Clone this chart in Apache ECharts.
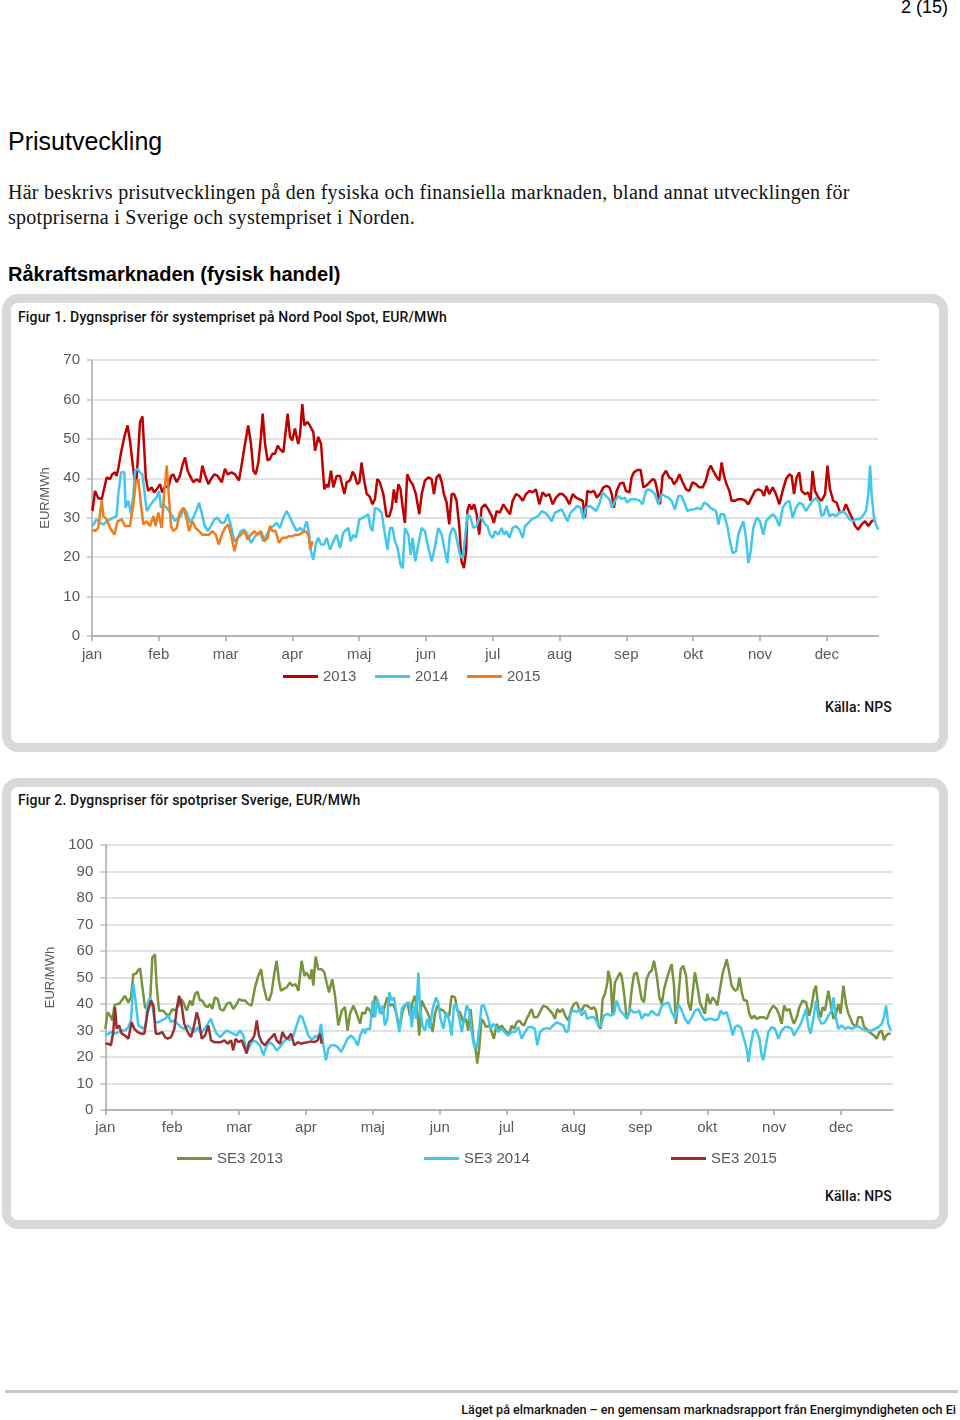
<!DOCTYPE html>
<html><head><meta charset="utf-8">
<script src="https://cdn.jsdelivr.net/npm/echarts@6.0.0/dist/echarts.min.js"></script>
<style>
html,body{margin:0;padding:0;background:#fff;}
#page{position:relative;width:960px;height:1420px;overflow:hidden;font-family:'Liberation Sans',Arial,sans-serif;}
.t{position:absolute;white-space:nowrap;}
.box{position:absolute;box-sizing:border-box;border:9px solid #d9d9d9;border-radius:16px;background:#fff;}
.fig{font-family:Roboto,'Liberation Sans',sans-serif;font-weight:500;font-size:14px;letter-spacing:0.15px;line-height:16px;color:#111;}
#c{position:absolute;left:0;top:0;width:960px;height:1420px;}
</style>
</head><body>
<div id="page">
  <div class="t" style="right:12px;top:-3px;font-size:18px;line-height:20px;color:#000;">2 (15)</div>
  <div class="t" style="left:8px;top:126px;font-size:25px;line-height:30px;color:#000;">Prisutveckling</div>
  <div class="t" style="left:8px;top:180px;font-family:'Liberation Serif','Times New Roman',serif;font-size:20px;letter-spacing:0.27px;line-height:25px;color:#111;">Här beskrivs prisutvecklingen på den fysiska och finansiella marknaden, bland annat utvecklingen för<br>spotpriserna i Sverige och systempriset i Norden.</div>
  <div class="t" style="left:8px;top:262px;font-size:20px;line-height:24px;font-weight:bold;color:#000;">Råkraftsmarknaden (fysisk handel)</div>
  <div class="box" style="left:2px;top:294px;width:946px;height:458px;"></div>
  <div class="t fig" style="left:18px;top:309px;">Figur 1. Dygnspriser för systempriset på Nord Pool Spot, EUR/MWh</div>
  <div class="t fig" style="right:68px;top:699px;">Källa: NPS</div>
  <div class="box" style="left:2px;top:778px;width:946px;height:451px;"></div>
  <div class="t fig" style="left:18px;top:792px;">Figur 2. Dygnspriser för spotpriser Sverige, EUR/MWh</div>
  <div class="t fig" style="right:68px;top:1188px;">Källa: NPS</div>
  <div style="position:absolute;left:5px;top:1390px;width:953px;height:3px;background:#c8c8c8;"></div>
  <div class="t fig" style="right:4px;top:1402px;font-size:12.6px;letter-spacing:0;">Läget på elmarknaden – en gemensam marknadsrapport från Energimyndigheten och Ei</div>
  <div id="c"></div>
</div>
<script>
// ---- axis labels / ticks ----
const months = ['jan','feb','mar','apr','maj','jun','jul','aug','sep','okt','nov','dec'];
const monthTicks = [0,31,62,93,124,155,186,217,248,279,310,341];

// ---- Figur 1: systempris (day of year, EUR/MWh) ----
const sys2013 = [[0.2,31.7],[1.4,36.8],[2.9,35],[4.5,34.7],[6.8,40.2],[8.4,39.8],[9.4,41],[10.7,41.5],[11.4,40.6],[12.2,42.4],[13.5,46.6],[15,50.5],[16.5,53.4],[17.6,49.6],[18.7,44.5],[19.9,39],[20.7,40],[22.3,54.3],[23.4,55.7],[24.3,56],[25,40],[26.1,36.8],[27.7,37.7],[28.9,36.4],[30,37.2],[31.6,38.5],[32.6,36.4],[33.9,38],[35.4,37.7],[36.7,40.6],[37.7,41],[39.3,39],[40.8,40.6],[41.9,43.2],[43.2,45.3],[44.4,41.9],[45.5,40.6],[47,39],[48.6,39.8],[50.1,39],[51.2,43.2],[52.4,41],[54,38.5],[55.2,39.8],[56.8,41],[58.3,40.6],[60.2,39],[61.7,42.4],[62.9,41],[64.8,41.5],[66.4,41],[68.2,39.4],[69.5,43.6],[71,48.7],[72.5,53.4],[73.8,48.7],[74.9,41.9],[76,41],[77.2,44],[78.4,50.5],[79.2,56.4],[80.3,48.7],[81.5,44.5],[82.6,44.9],[83.7,46.2],[84.9,46.2],[86.2,48.3],[87.2,47.4],[88.8,46.6],[89.5,46.2],[90.8,56.4],[91.9,50.5],[92.9,49.6],[94.2,52.6],[95.7,48.7],[96.5,50.9],[97.6,58.8],[98.5,53.4],[100,54.3],[101.1,53.4],[102.7,51.7],[103.5,47],[105,50.5],[106.3,48.7],[107.8,37.2],[108.9,38.5],[109.7,37.7],[110.9,41.9],[112,37.7],[113.5,40.6],[115.1,40.6],[117.1,36],[118.2,39],[119.7,39.4],[121,41.7],[122,40.6],[123.1,38.5],[124.1,39],[125.1,44],[126.2,39.8],[127.5,36],[128.7,35.5],[130.2,33.4],[131.3,34.7],[132.4,39.8],[133.6,39],[135.2,36],[136.7,30.4],[138,30.4],[139.1,32.5],[140.1,37.2],[141.1,33.8],[142.2,38.5],[143.2,37.2],[144.2,32.5],[145.2,28.7],[146.3,41],[147.6,39.4],[148.8,38.5],[150.3,36],[151.9,30.9],[153,36],[154.5,39.4],[156.1,40.2],[157.6,39.8],[158.7,36],[159.9,40.2],[161.2,41],[162.3,39],[163.3,36],[164.6,33.8],[165.8,28.3],[166.9,36],[168,36],[169.2,34.3],[170.5,27.4],[171.5,18.9],[172.6,17.2],[173.6,21.5],[174.2,31.7],[175.1,33.4],[176.2,32.1],[177.3,33.4],[178.5,30.9],[179.7,25.7],[180.8,32.5],[182.4,33.4],[183.9,32.1],[185.5,30.4],[186.5,28.7],[187.8,31.7],[189.3,31.3],[190.9,33.4],[192.4,32.1],[194,30.9],[195.2,34.3],[196.8,36],[198.3,35.5],[199.9,34.3],[201.4,36],[203,36.8],[204.5,36.4],[206,37.2],[207.6,33.4],[209.1,36.4],[210.7,35.5],[212.2,36],[213.8,33.4],[215.3,35.1],[216.9,36],[218.4,36],[220,35.1],[221.5,33.4],[223.1,36],[224.6,35.1],[226.1,34.7],[227.7,34.3],[228.8,30],[229.9,36.8],[231.4,36.4],[233,36.8],[234.2,35.1],[235.7,36],[237.3,37.7],[238.8,38.1],[240.1,37.7],[241.2,36],[242.2,32.5],[243.5,36.8],[245,38.7],[246.6,38.9],[247.8,36.8],[249.4,36.4],[250.4,40.2],[251.5,41.5],[253.1,42.1],[254.6,42.1],[255.9,37.7],[257.1,38.1],[258.6,38.9],[260.2,39.8],[261.3,39.4],[262,37.7],[263.6,33.4],[264.8,40.6],[266.4,41.9],[267.9,40.2],[269,39.8],[270.1,38.5],[271.3,39.4],[272.6,41],[274.1,39],[275.7,37.2],[277.2,36.8],[278.7,39],[280.3,38.5],[281.8,37.7],[283.4,37.7],[284.9,39.4],[286,41.9],[287.1,43.2],[288.3,41.9],[289.6,40.6],[291.1,39.4],[292.2,44],[293.3,40.6],[294.5,38.5],[295.8,36.8],[296.8,34.3],[298.4,34.3],[299.9,34.7],[301.5,34.7],[303,34.4],[304.6,33.4],[306.1,35.1],[307.7,36.8],[309.2,37.2],[310.8,36.8],[311.9,35.5],[313.1,38.1],[314.3,36],[315.9,37.7],[317.4,36],[319,33.4],[320.5,36.8],[322.1,39.8],[323.6,41],[324.7,40.6],[325.8,36],[327,40.2],[328.2,41.5],[329.3,36.8],[330.9,36],[332.4,36.4],[333.5,34.3],[334.4,41.9],[335.5,36.8],[337.1,35.1],[338.6,34.3],[340.2,36],[341.3,43.2],[342.5,37.2],[344,34.3],[345.6,33.8],[347.1,31.3],[348.7,31.7],[349.9,33.4],[351.5,31.3],[353,29.6],[354.1,27.9],[355.6,27],[357.2,28.3],[358.7,29.1],[360.3,27.9],[361.8,29.1],[362.6,29.3]];

const sys2014 = [[0.2,27.9],[2.2,29.6],[3.7,28.7],[5.3,28.3],[6.8,29.1],[8.4,29.6],[9.9,30],[11.4,30.4],[12.2,36],[13.5,41.5],[15,41.5],[15.6,32.5],[16.9,34.3],[18.1,30.9],[19.2,36],[20,41.9],[21.2,42.4],[22.3,41.5],[23.4,41],[24.3,41.5],[25.4,31.7],[26.9,33],[28.5,34.3],[30,35.1],[31.1,36.8],[32,32.5],[33.1,33.4],[34.7,32.5],[36.2,31.3],[37.3,30.4],[38.5,29.1],[39.8,30],[41.3,30.4],[42.4,32.5],[44,31.3],[45.5,28.7],[47,30],[48.6,32.1],[49.7,33.8],[50.9,31.3],[52.1,28.3],[53.7,26.6],[55.2,27.9],[56.8,29.6],[58.3,30],[59.9,28.7],[61.4,28.7],[63,30.9],[64.5,27.9],[66.1,24],[67.6,24.9],[69.1,26.6],[70.7,27],[72.2,25.7],[73.8,23.6],[75.3,24.9],[76.9,26.2],[78.4,25.7],[79.5,24],[81.1,25.7],[82.6,27.4],[84.2,27.9],[85.7,28.7],[87.2,27.4],[88.8,30],[90.3,31.7],[91.9,30],[93.4,28.3],[95,26.6],[96.5,27.4],[98.1,26.6],[99.6,29.1],[100.7,26.2],[101.6,21.5],[102.7,19.3],[103.8,23.2],[105,24.9],[106.3,23.2],[107.8,23.2],[108.9,24.9],[110.5,21.9],[112,24],[113.5,25.7],[115.1,22.3],[116.6,26.2],[119,27.4],[120,24],[121.3,25.7],[122.5,24.9],[124.1,29.6],[125.6,30],[127.1,30.4],[128.2,30.9],[129.3,27.4],[130.2,26.6],[131.3,32.5],[132.9,32.1],[134.4,31.3],[135.5,27.4],[137.1,21.9],[138.3,27.4],[139.5,27.4],[140.6,24],[141.8,22.3],[143.2,18],[144.2,17.2],[145.2,27.4],[146.8,25.7],[147.9,20.6],[148.8,24.9],[150,18.9],[151.4,23.2],[153,27.4],[154.5,26.6],[156.1,22.3],[157.6,18.9],[159.2,22.7],[160.7,27.4],[162.3,25.7],[163.8,21.5],[164.9,18.5],[166.1,25.7],[167.4,27.4],[168.5,26.6],[169.5,24],[170.8,20.6],[172,19.7],[173.1,24.9],[174.2,30.9],[175.4,30.4],[177,27.4],[178.5,27.9],[179.7,30],[180.8,30],[182.4,28.3],[183.5,27.9],[184.7,25.7],[186,24.9],[187,26.6],[188.6,25.7],[190.1,27.4],[191.2,25.7],[192.4,26.6],[193.7,24.9],[195.2,27.4],[196.8,27.9],[198.3,27],[199.9,24.9],[201,27.9],[202.5,28.7],[204,29.6],[205.6,30],[207.1,30.4],[208.7,31.7],[210.2,31.3],[211.8,30.4],[213.3,29.1],[214.9,31.3],[216.4,31.7],[218,32.1],[219.5,30.4],[220.6,29.1],[222.1,31.3],[223.7,32.1],[225.2,33],[226.8,32.5],[228,29.6],[229.2,32.5],[230.8,33],[232.3,32.5],[233.9,31.7],[235.4,33.4],[237,36.4],[238.5,35.5],[240.1,34.7],[241.3,32.5],[242.7,34.3],[244.3,35.5],[245.8,34.7],[247.3,35.1],[248.4,33.8],[250,34.7],[252,34.7],[254,34.4],[255.5,33.4],[257.1,36.8],[258.2,37.2],[259.7,36.8],[261.3,36],[262.8,33.4],[264.4,36],[265.9,35.5],[267.5,35.1],[269,34.3],[270.5,32.1],[272.1,35.5],[273.6,35.5],[275.2,33.4],[276.3,31.7],[277.8,32.1],[279.4,32.1],[280.9,32.5],[282.5,32.1],[284,33.8],[285.6,33.4],[287.1,32.5],[288.3,32.1],[289.6,31.7],[290.7,28.3],[291.7,30.9],[293.3,30.9],[294.8,27.9],[296.1,24],[297.3,21],[298.9,21.5],[299.9,25.7],[301,27.4],[302.3,29.1],[303.5,24.9],[304.6,18.5],[305.7,21.5],[306.9,27.4],[308.5,30],[310,29.1],[311.5,25.7],[312.8,29.1],[314.3,30],[315.9,30.9],[317.4,30],[319,27.9],[320.5,32.5],[322.1,33.8],[323.6,34.3],[325.2,30],[326.7,32.5],[328.2,33.8],[329.8,33.4],[331.3,31.7],[332.9,33],[334.4,34.3],[336,35.1],[337.5,33.8],[338.6,30.4],[339.7,30.9],[340.9,33],[342.2,30.4],[343.7,30.9],[345.3,30.4],[346.8,31.3],[348.4,31.7],[349.9,30.9],[351.5,29.6],[353,29.1],[354.5,29.6],[356.1,29.6],[357.6,30.4],[359.2,31.7],[360.3,36],[361.1,43.2],[361.8,36],[362.9,30],[363.8,28.3],[364.9,27]];

const sys2015 = [[0.2,27],[1.4,26.6],[2.9,27.4],[4.5,34.3],[5.3,30.4],[6.8,29.6],[8.4,27.4],[10.4,25.7],[11.9,29.1],[13.8,29.6],[15.3,27.9],[17.6,27.9],[19.2,33.4],[20.3,39],[21.5,39.8],[22.7,33.4],[23.8,28.3],[25.4,29.1],[26.9,27.9],[28.5,30.4],[29.5,27.9],[30.8,31.3],[32.3,27.4],[33.6,36.8],[34.7,43.2],[35.7,35.1],[36.7,27.9],[37.7,26.6],[39.3,27.4],[40.8,31.3],[42.4,32.5],[44,29.6],[45,26.6],[46.6,29.1],[48.1,27.4],[49.7,26.6],[51.2,25.7],[52.8,25.7],[54.3,25.7],[55.8,26.6],[57.4,25.7],[58.9,23.2],[60.2,25.7],[61.7,27.4],[63.3,28.3],[64.8,24.9],[66.1,21.5],[67.6,24.9],[69.1,25.7],[70.7,26.6],[72.2,24.5],[73.8,25.7],[75.3,26.6],[76.9,25.7],[78.4,26.6],[80,24],[81.5,24.9],[82.6,27.9],[83.7,26.6],[85.2,26.6],[86.8,23.6],[88.3,24.9],[89.9,24.9],[91.4,25.3],[93,25.3],[94.5,25.7],[96.1,25.7],[97.6,26.2],[99.2,26.6],[100.4,25.7],[101.3,21.9],[102.3,24]];

// ---- Figur 2: SE3 spotpris (day of year, EUR/MWh) ----
const se3_2013 = [[0,30.6],[1.1,36.9],[2.2,35.6],[3.3,33.8],[4.2,39.4],[5.3,40],[6.4,40],[7.6,41.3],[9.1,43.1],[10.7,40.6],[11.9,42.5],[13,51.3],[14.1,51.3],[15,52.5],[16.1,53.4],[17.2,46.3],[18.4,38.8],[19.6,38.1],[20.7,40],[21.8,57.5],[23,58.8],[23.8,46.9],[24.9,37.5],[25.8,36.9],[26.9,37.5],[28,36.3],[29.5,35.6],[31.1,38.1],[32.3,37.5],[33.9,39.4],[35.1,41.9],[36.2,40.6],[37.7,37.5],[39.3,41.3],[40.3,39.4],[41.6,43.8],[42.8,44.6],[43.9,41.3],[45,41.3],[46.2,39.4],[47.4,38.8],[48.5,40],[49.6,38.1],[50.8,42.5],[52.1,41.9],[53.2,38.1],[54.7,37.5],[56.3,40],[57.8,40.6],[59.3,38.1],[60.9,40],[62,41.9],[63.2,41.3],[64.8,41.3],[66.3,40],[67.8,39.4],[69.4,46.3],[70.9,50.6],[72.2,53.1],[73.3,46.9],[74.8,41.9],[75.9,41.3],[77.1,44.4],[78.4,51.9],[79.4,56.3],[80.5,48.8],[81.4,45],[82.5,45.6],[84.1,46.3],[85.6,48.1],[86.7,46.9],[88.2,47.5],[89.5,45],[91,56.3],[92.3,50.6],[93.3,51.9],[94.9,49.4],[95.7,53.1],[96.4,46.9],[97.5,57.9],[98.7,53.1],[100.3,53.1],[101.5,51.9],[102.6,48.1],[103.7,44.4],[105.2,49.4],[106.5,43.1],[108,31.9],[109.6,37.5],[111.1,38.8],[112.3,30],[113.4,36.3],[115,39.4],[116.5,36.3],[118.1,32.5],[119.1,36.9],[120.4,36.3],[121.4,38.8],[122.7,37.5],[123.9,35],[125,43.1],[126.1,41.3],[127.3,38.1],[128.5,36.3],[129.6,39.4],[130.7,42.5],[131.9,39.4],[133.2,40],[134.3,38.1],[135.8,33.1],[136.6,31.3],[137.8,37.5],[138.9,39.4],[140,40.6],[141.2,35.6],[142.4,40.6],[143.5,43.1],[144.6,37.5],[145.5,28.1],[146.6,41.3],[147.7,39.4],[148.9,37.5],[150.5,34.4],[151.7,29.4],[152.8,36.3],[153.9,39.4],[155.1,38.1],[156.7,37.5],[158.2,35.6],[159.4,35.6],[160.5,43.1],[162.1,42.5],[163.1,37.5],[164.4,36.9],[165.9,33.1],[167.2,34.4],[168.2,30],[169.3,38.1],[170.6,26.9],[171.8,21.9],[172.4,17.5],[173.3,23.1],[174.4,34.4],[175.5,33.1],[176.4,31.3],[178,31.9],[179.1,29.4],[180.1,26.9],[181.4,32.5],[182.6,30.6],[183.7,31.9],[184.8,30.6],[186,29.4],[187.3,28.8],[188.3,31.9],[189.4,30.6],[190.7,33.1],[191.9,33.8],[193,32.5],[194.1,31.9],[195.3,34.4],[196.5,36.3],[197.6,38.1],[198.7,35],[200.2,35],[201.8,37.5],[203,39.4],[204.6,38.8],[206.1,37.5],[207.3,36.3],[208.4,34.4],[209.5,38.1],[210.7,36.9],[212,38.1],[213.1,35.6],[214.6,33.8],[216.1,38.1],[217.2,40],[218.5,40.6],[219.7,38.1],[220.8,37.5],[221.9,39.4],[223.1,39.4],[224.3,38.8],[225.4,38.1],[226.5,38.8],[227.4,37.5],[228.5,31.9],[229.6,30.6],[230.5,41.9],[231.6,43.8],[232.7,48.1],[233.1,52.5],[234.2,48.8],[235.1,36.3],[236.2,48.1],[237.8,50.6],[238.5,51.9],[239.3,50.6],[240.4,44.4],[241.7,34.4],[242.9,36.9],[244,45.6],[245.1,51.3],[246.3,51.9],[247.5,46.9],[248.6,41.9],[249.7,40.6],[250.9,49.4],[252.2,51.9],[253.2,52.5],[254.3,56.3],[255.6,50.6],[256.8,42.5],[257.9,40],[259,45.6],[260.2,49.4],[261.4,52.5],[262.5,55],[263.6,46.9],[264.5,32.5],[265.6,42.5],[266.7,53.1],[267.9,54.4],[269.2,50.6],[270.2,40.6],[271.3,37.5],[272.6,46.9],[273.3,51.9],[274.4,46.9],[275.6,40.6],[276.9,38.1],[277.9,36.3],[279,43.8],[280.3,40],[281.5,42.5],[282.6,41.3],[283.7,39.4],[284.9,45.6],[286.2,51.9],[287.2,54.4],[288,56.9],[289.2,51.9],[290.3,46.9],[291.9,45],[293,45.6],[293.9,50],[295,44.4],[296,41.3],[297.3,41.3],[298.5,36.3],[299.6,34.4],[300.7,35.6],[301.9,34.4],[303.5,35],[305,35],[306.6,34.4],[308.1,37.5],[309.6,39.4],[311.2,38.1],[312.4,35.6],[313.5,32.5],[314.6,39.4],[315.8,37.5],[317.1,38.1],[318.1,35],[319.2,32.5],[320.5,35],[321.7,38.8],[323.2,41.3],[324.8,40.6],[326.3,35.6],[327.4,39.4],[328.5,45],[329.4,46.9],[330.5,38.1],[331.6,35],[332.5,38.8],[333.6,37.5],[335.1,45],[336.2,40],[337.5,34.4],[338.7,36.3],[339.8,40],[340.8,36.3],[342.1,46.9],[343.3,40],[344.4,36.3],[345.5,34.4],[346.4,32.5],[348,31.3],[349,35],[350.6,35],[351.7,31.3],[352.9,30.6],[354.1,29.4],[355.2,28.8],[356.3,28.1],[357.5,26.9],[358.8,29.4],[359.9,30],[360.9,26.3],[361.9,28.1],[362.9,28.8],[364,28.8]];

const se3_2014 = [[0,28.1],[1.4,28.8],[3,29.4],[4.5,28.8],[6.1,29.4],[7.6,30],[9.1,30],[10.7,31.3],[11.9,33.8],[13,47.5],[14.1,40.6],[15.3,31.9],[16.6,31.3],[17.6,30.6],[18.7,31.9],[19.6,40],[20.7,42.5],[21.8,39.4],[23,33.1],[24.6,33.1],[26.1,33.8],[27.7,34.4],[29.2,35.6],[30.5,33.1],[32,33.8],[33.5,32.5],[35.1,31.3],[36.6,30.6],[38.2,31.9],[39.7,30.6],[41.3,29.4],[42.8,31.3],[44.4,28.8],[45.9,30.6],[47.5,32.5],[49,34.4],[50.2,31.3],[51.6,28.8],[53.2,27.5],[54.7,28.8],[56.3,30],[57.8,29.4],[59.3,28.8],[60.9,28.1],[62.4,30],[64,28.1],[65.5,21.9],[67.1,24.4],[68.6,26.3],[70.2,25.6],[71.7,24.4],[73.3,20.6],[74.8,24.4],[76.3,25.6],[77.9,24.4],[79.4,22.5],[81,23.8],[82.5,25.6],[84.1,26.9],[85.6,26.3],[87.2,28.1],[88.7,31.9],[90.2,35.6],[91.3,35],[92.6,31.9],[94.1,28.1],[95.3,26.9],[96.4,26.9],[97.5,28.1],[98.7,26.9],[100,32.5],[101.1,24.4],[102.3,18.8],[103.4,23.1],[104.6,24.4],[106.2,24.4],[107.7,23.8],[109.3,21.9],[110.8,24.4],[112.3,26.9],[113.9,28.1],[115.4,26.9],[117,24.4],[118.1,28.1],[119.6,30.6],[120.4,28.8],[121.1,30.6],[122.7,30.6],[123.9,41.3],[125,35],[126.1,41.9],[127.3,36.3],[128.5,39.4],[129.6,31.9],[130.7,34.4],[131.6,44.4],[132.7,41.3],[133.8,42.5],[135,35.6],[136.3,29.4],[137.4,38.1],[138.4,39.4],[139.7,40],[140.9,40.6],[142,31.3],[143.1,39.4],[144,34.4],[145.1,51.9],[145.8,39.4],[147.1,31.3],[148.2,30],[149.2,34.4],[150.5,30.6],[151.7,38.1],[153.3,42.5],[154.3,40.6],[155.4,34.4],[156.7,30.6],[157.9,36.9],[159.4,33.8],[160.5,28.1],[161.6,39.4],[162.8,39.4],[164.1,34.4],[165.2,29.4],[166.2,33.8],[167.5,39.4],[168.7,37.5],[169.8,29.4],[170.9,24.4],[172.1,23.1],[173.3,30.6],[174.4,39.4],[175.5,39.4],[176.4,39.4],[177.5,34.4],[178.6,30.6],[179.8,32.5],[181.1,31.3],[182.2,29.4],[183.2,30.6],[184.5,30],[185.7,28.8],[186.8,28.1],[188.3,29.4],[189.9,29.4],[191.4,31.3],[193,26.9],[194.5,29.4],[196.1,31.3],[197.6,31.3],[199.1,30.6],[200.2,24.4],[201.5,29.4],[203,30.6],[204.6,30.9],[206.1,30.6],[207.6,31.9],[209.2,33.1],[210.7,32.5],[212.3,31.9],[213.5,29.4],[214.6,30],[215.7,36.9],[217.2,37.5],[218.5,36.9],[219.7,38.1],[220.8,35.6],[222.3,37.5],[223.4,34.4],[224.9,35],[226.5,35],[228,33.1],[229.6,31.3],[231.1,35.6],[232.7,36.3],[234.2,35.6],[235.8,36.3],[237,41.3],[238.6,37.5],[240.1,36.3],[241.7,34.4],[243.2,38.1],[244.8,36.9],[246.3,36.9],[247.5,37.5],[248.6,34.4],[250.2,36.3],[251.7,35.6],[253.2,37.5],[254.8,36.3],[256.3,35.6],[257.9,39.4],[259.4,40],[261,40.6],[262.5,36.9],[264.1,34.4],[265.6,40],[267.2,37.5],[268.7,34.4],[270.2,32.5],[271.8,35],[273.3,37.5],[274.9,38.1],[276.4,35.6],[278,33.8],[279.5,34.4],[281.1,34.4],[282.6,33.8],[284.1,34.4],[285.2,37.5],[286.5,36.3],[288,36.9],[289.6,32.5],[290.8,28.1],[291.9,31.3],[293,31.9],[294.5,31.3],[296,26.9],[297.3,23.1],[298.1,18.1],[299.1,24.4],[300.4,29.8],[301.6,30.4],[303.2,26.9],[304.2,20.6],[305,18.8],[306.2,24.4],[307.3,29.4],[308.9,31.3],[310.4,30.6],[312,26.9],[313.5,30],[315.1,31.3],[316.6,31.3],[318.1,30.6],[319.2,28.1],[320.5,30],[322,31.9],[323.5,35],[324.8,38.1],[325.9,31.3],[326.9,28.8],[328.2,34.4],[329.4,41.3],[330.5,35],[332,32.5],[333.6,33.1],[335.1,35.6],[336.7,37.5],[337.5,42.5],[338.7,34.4],[339.8,30.6],[341.3,31.9],[342.9,30.6],[344.4,31.3],[345.9,30.6],[347.5,31.3],[349,31.6],[350.6,30.6],[352.1,30],[353.7,30],[355.2,30],[356.8,30.6],[358.3,31.3],[359.9,32.5],[360.9,35],[361.9,39.4],[362.9,32.5],[364,30]];

const se3_2015 = [[0,25],[1.4,25],[2.6,24.4],[3.7,29.4],[4.5,38.8],[5.3,30.6],[6.4,31.9],[7.6,28.8],[9.1,28.1],[10.7,26.9],[12.2,33.1],[13.5,30.6],[15,29.4],[16.6,28.8],[18.1,28.8],[19.6,36.9],[21.2,41.3],[22.3,39.4],[23.4,28.8],[24.9,28.8],[26.4,29.4],[27.7,27.5],[28.9,26.9],[30.5,27.5],[32,30.6],[33.1,38.1],[34.2,43.1],[35.4,39.4],[36.6,32.5],[38.2,29.4],[39.7,27.5],[40.8,30.6],[42.4,36.9],[43.4,33.8],[44.7,26.9],[46.2,28.1],[47.8,31.9],[49,26.3],[50.5,25.6],[52.1,25.6],[53.6,25.6],[55.2,26.3],[56.7,25],[58.3,26.3],[59.3,22.5],[60.4,26.9],[61.7,25.6],[63.2,26.3],[64.4,23.8],[65.5,21.3],[66.6,25.6],[67.8,26.3],[69.1,28.1],[70.2,33.8],[71.2,28.1],[72.5,25.6],[74,24.4],[75.6,26.3],[77.1,27.5],[78.4,28.8],[79.4,26.3],[81,25],[82.1,29.4],[83.3,27.5],[84.5,26.9],[86.1,28.8],[87.6,24.4],[89.2,25.6],[90.7,25],[92.3,25.4],[93.8,25.6],[95.4,25.9],[96.9,25.6],[98.4,26.3],[99.5,28.8],[100.3,25]];

// ---- styling constants ----
const C = {red:'#c00000', cyan:'#41c6ee', orange:'#f07c1e', green:'#77933c', maroon:'#9a2f31'};
const grey = '#595959';

function xAxisCfg(gi, margin){
  return {gridIndex:gi, type:'value', min:0, max:365,
    axisLine:{show:true, lineStyle:{color:'#a6a6a6', width:1.5}},
    axisTick:{show:true, customValues:monthTicks, length:5, lineStyle:{color:'#a6a6a6', width:1.5}},
    axisLabel:{customValues:monthTicks, formatter:v=>months[monthTicks.indexOf(v)], color:grey, fontSize:15, margin:margin, fontFamily:'Liberation Sans'},
    splitLine:{show:false}};
}
function yAxisCfg(gi, max, gap){
  return {gridIndex:gi, type:'value', min:0, max:max, interval:10,
    name:'EUR/MWh', nameLocation:'middle', nameGap:gap, nameRotate:90,
    nameTextStyle:{fontSize:13, color:grey, fontFamily:'Liberation Sans'},
    axisLine:{show:true, lineStyle:{color:'#a6a6a6', width:1.5}},
    axisTick:{show:true, length:5, lineStyle:{color:'#bfbfbf', width:1.5}},
    axisLabel:{color:grey, fontSize:15, margin:12, fontFamily:'Liberation Sans'},
    splitLine:{show:true, lineStyle:{color:'#d9d9d9', width:1.5}}};
}
function line(name, data, color, gi){
  return {name, type:'line', data, xAxisIndex:gi, yAxisIndex:gi, showSymbol:false, symbol:'none',
    lineStyle:{color, width:2.5}, itemStyle:{color}, emphasis:{disabled:true}, z:2};
}
function legend(name, left, top){
  return {data:[name], left, top, padding:0, icon:'rect', itemWidth:35, itemHeight:3, itemGap:0,
    selectedMode:false, textStyle:{color:grey, fontSize:15, fontFamily:'Liberation Sans'}};
}

const chart = echarts.init(document.getElementById('c'), null, {renderer:'canvas'});
chart.setOption({
  animation:false,
  backgroundColor:'transparent',
  grid:[
    {left:92, top:360, width:786.5, height:276},
    {left:105.3, top:845, width:787.5, height:265}
  ],
  xAxis:[xAxisCfg(0, 11), xAxisCfg(1, 10)],
  yAxis:[yAxisCfg(0, 70, 38), yAxisCfg(1, 100, 46)],
  legend:[
    legend('2013', 283, 669), legend('2014', 375, 669), legend('2015', 467, 669),
    legend('SE3 2013', 177, 1151), legend('SE3 2014', 424, 1151), legend('SE3 2015', 671, 1151)
  ],
  series:[
    line('2013', sys2013, C.red, 0),
    line('2014', sys2014, C.cyan, 0),
    line('2015', sys2015, C.orange, 0),
    line('SE3 2013', se3_2013, C.green, 1),
    line('SE3 2014', se3_2014, C.cyan, 1),
    line('SE3 2015', se3_2015, C.maroon, 1)
  ]
});
</script>
</body></html>
